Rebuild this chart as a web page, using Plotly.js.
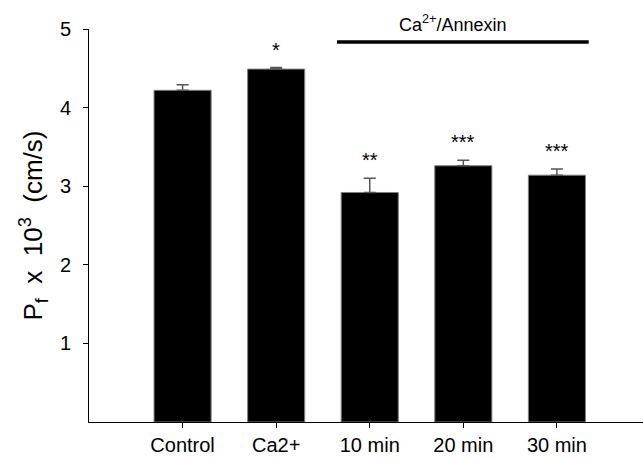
<!DOCTYPE html>
<html>
<head>
<meta charset="utf-8">
<script src="https://cdn.plot.ly/plotly-3.0.1.min.js"></script>
<style>html,body{margin:0;padding:0;background:#fff;}#chart{width:643px;height:459px;}</style>
</head>
<body>
<div id="chart"></div>
<script>
const categories = ["Control", "Ca2+", "10 min", "20 min", "30 min"];
const means = [4.22, 4.49, 2.92, 3.26, 3.14];
const sem = [0.07, 0.02, 0.18, 0.07, 0.08];
const stars = ["", "*", "**", "***", "***"];
const groupLabel = "Ca<sup>2+</sup>/Annexin";
const groupStart = 1.65, groupEnd = 4.34, groupLevel = 4.835;

const xIdx = categories.map((c, i) => i);

const trace = {
  type: "bar",
  x: xIdx,
  y: means,
  width: 0.61,
  marker: {color: "#000000", line: {color: "#7f7f7f", width: 1}},
  error_y: {type: "data", symmetric: false, array: sem, arrayminus: sem.map(() => 0),
            color: "#555555", thickness: 1.5, width: 6},
  hoverinfo: "none"
};

const annotations = [];
stars.forEach((s, i) => {
  if (!s) return;
  annotations.push({x: i, y: means[i] + sem[i], xref: "x", yref: "y", text: s,
    showarrow: false, yanchor: "middle", yshift: 18,
    font: {family: "Arial, Liberation Sans, sans-serif", size: 20, color: "#000"}});
});
annotations.push({x: (groupStart + groupEnd) / 2 - 0.115, y: groupLevel, xref: "x", yref: "y",
  text: groupLabel, showarrow: false, yanchor: "bottom", yshift: 5,
  font: {family: "Arial, Liberation Sans, sans-serif", size: 18, color: "#000"}});

const layout = {
  width: 643, height: 459,
  margin: {l: 89, r: 0, t: 29, b: 37, pad: 0},
  paper_bgcolor: "#fff", plot_bgcolor: "#fff",
  showlegend: false,
  font: {family: "Arial, Liberation Sans, sans-serif", color: "#000"},
  xaxis: {
    range: [-1, 4.92], tickmode: "array", tickvals: xIdx, ticktext: categories,
    ticks: "outside", ticklen: 5, tickcolor: "#000", tickwidth: 1,
    showline: true, linecolor: "#000", linewidth: 1, showgrid: false, zeroline: false,
    tickfont: {size: 20, color: "#000"}, fixedrange: true
  },
  yaxis: {
    range: [0, 5], tickvals: [1, 2, 3, 4, 5],
    ticks: "outside", ticklen: 5, tickcolor: "#000", tickwidth: 1, ticklabelstandoff: 8,
    showline: true, linecolor: "#000", linewidth: 1, showgrid: false, zeroline: false,
    tickfont: {size: 20, color: "#000"},
    title: {text: "P<sub>f</sub>&nbsp; x&nbsp; 10<sup>3</sup>&nbsp; (cm/s)", font: {size: 26, color: "#000"}, standoff: 9},
    fixedrange: true
  },
  shapes: [{type: "line", xref: "x", yref: "y", x0: groupStart, x1: groupEnd, y0: groupLevel, y1: groupLevel,
            line: {color: "#000", width: 3.5}}],
  annotations: annotations
};

Plotly.newPlot("chart", [trace], layout, {displayModeBar: false, staticPlot: true});
</script>
</body>
</html>
